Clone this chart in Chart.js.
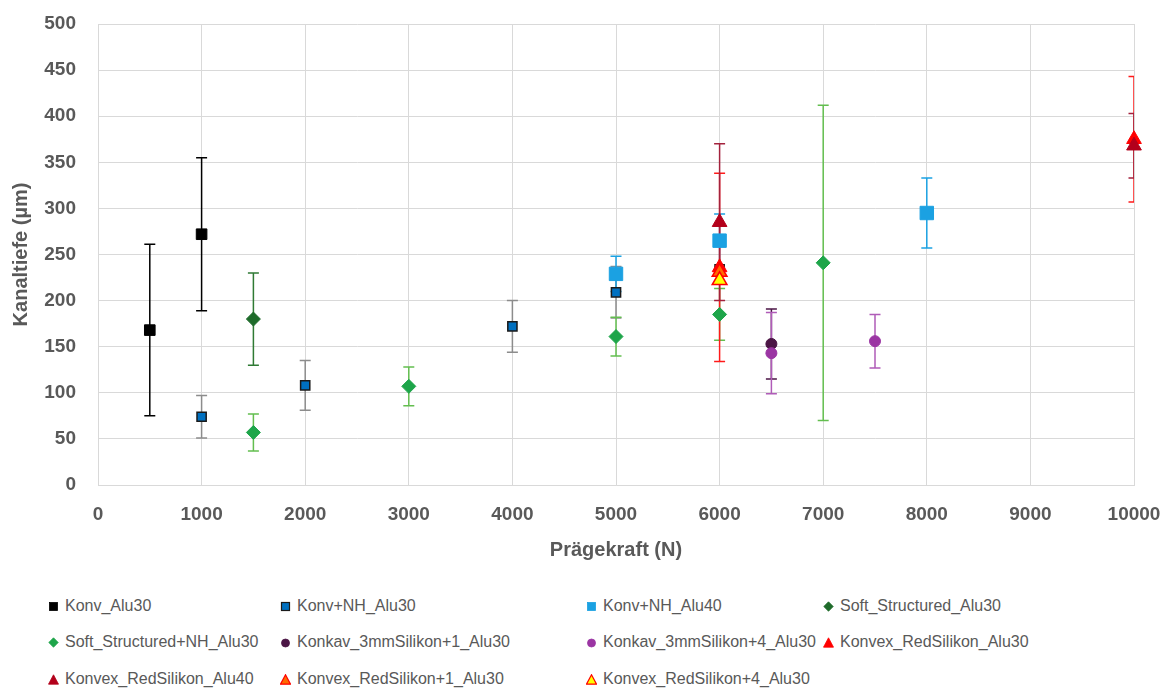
<!DOCTYPE html>
<html>
<head>
<meta charset="utf-8">
<script src="https://cdn.jsdelivr.net/npm/chart.js@4.4.1/dist/chart.umd.min.js"></script>
<style>
    body { margin: 0; background: #ffffff; font-family: "Liberation Sans", Arial, sans-serif; }
    #wrap { position: relative; width: 1170px; height: 689px; }
    #chartBox { position: absolute; left: 0; top: 0; width: 1170px; height: 580px; }
    .legendItem {
        position: absolute;
        display: flex;
        align-items: center;
        font-size: 16px;
        color: #595959;
        white-space: nowrap;
        transform: translateY(-50%);
    }
    .legendItem svg { margin-right: 6px; }
</style>
</head>
<body>
<div id="wrap">
    <div id="chartBox"><canvas id="pressChart"></canvas></div>
    <div id="legend"></div>
</div>

<script>
// =========================
// DATA
// =========================

const seriesNames = [
    "Konv_Alu30",
    "Konv+NH_Alu30",
    "Konv+NH_Alu40",
    "Soft_Structured_Alu30",
    "Soft_Structured+NH_Alu30",
    "Konkav_3mmSilikon+1_Alu30",
    "Konkav_3mmSilikon+4_Alu30",
    "Konvex_RedSilikon_Alu30",
    "Konvex_RedSilikon_Alu40",
    "Konvex_RedSilikon+1_Alu30",
    "Konvex_RedSilikon+4_Alu30"
];

// Prägekraft (N) per series
const pressForce = [
    [500, 1000],
    [1000, 2000, 4000, 5000, 6000],
    [5000, 6000, 8000],
    [1500],
    [1500, 3000, 5000, 6000, 7000],
    [6500],
    [6500, 7500],
    [6000, 10000],
    [6000, 10000],
    [6000],
    [6000]
];

// Kanaltiefe (µm) per series
const channelDepth = [
    [168, 272],
    [74, 108, 172, 209, 234],
    [229, 265, 295],
    [180],
    [57, 107, 161, 185, 241],
    [153],
    [143, 156],
    [236, 375],
    [285, 368],
    [231],
    [222]
];

// error (+/-) per point
const depthError = [
    [93, 83],
    [23, 27, 28, 28, 0],
    [19, 29, 38],
    [50],
    [20, 21, 21, 28, 171],
    [38],
    [44, 29],
    [102, 68],
    [85, 35],
    [0],
    [0]
];

const xTicks = [0, 1000, 2000, 3000, 4000, 5000, 6000, 7000, 8000, 9000, 10000];
const yTicks = [0, 50, 100, 150, 200, 250, 300, 350, 400, 450, 500];

// =========================
// STYLES
// =========================

const seriesStyles = [
    { shape: "rect",     r: 7.5, fill: "#000000", line: "#000000", lw: 1,   err: "#000000" },
    { shape: "rect",     r: 6.5, fill: "#0070c0", line: "#1a1a1a", lw: 1.5, err: "#8c8c8c" },
    { shape: "rect",     r: 9.5, fill: "#1ba1e2", line: "#1ba1e2", lw: 1,   err: "#1ba1e2" },
    { shape: "rectRot",  r: 7,   fill: "#1e6b2a", line: "#1e6b2a", lw: 1,   err: "#2f7a34" },
    { shape: "rectRot",  r: 7,   fill: "#1ea54a", line: "#1ea54a", lw: 1,   err: "#63be4f" },
    { shape: "circle",   r: 5.5, fill: "#4b1545", line: "#4b1545", lw: 1,   err: "#4b1545" },
    { shape: "circle",   r: 5.5, fill: "#9b35a3", line: "#9b35a3", lw: 1,   err: "#b05cb8" },
    { shape: "triangle", r: 8.5, fill: "#ff0000", line: "#ff0000", lw: 1,   err: "#ff1a1a" },
    { shape: "triangle", r: 8.5, fill: "#b3001b", line: "#b3001b", lw: 1,   err: "#a3223d" },
    { shape: "triangle", r: 8.5, fill: "#ff6a00", line: "#ff0000", lw: 1.5, err: "#ff0000" },
    { shape: "triangle", r: 8.5, fill: "#ffff00", line: "#ff0000", lw: 1.5, err: "#ff0000" }
];

const textGray = "#595959";
const gridGray = "#d9d9d9";

// =========================
// ERROR BARS PLUGIN
// =========================

const errorBars = {
    id: "errorBars",
    beforeDatasetsDraw(chart) {
        const ctx = chart.ctx;
        const yScale = chart.scales.y;
        const area = chart.chartArea;

        ctx.save();
        ctx.beginPath();
        ctx.rect(area.left, area.top - 3, area.right - area.left, area.bottom - area.top + 6);
        ctx.clip();

        chart.data.datasets.forEach((ds, i) => {
            const meta = chart.getDatasetMeta(i);
            meta.data.forEach((pt, j) => {
                const err = depthError[i][j];
                if (!err) return;
                const value = channelDepth[i][j];
                const top = yScale.getPixelForValue(value + err);
                const bottom = yScale.getPixelForValue(value - err);

                ctx.strokeStyle = seriesStyles[i].err;
                ctx.lineWidth = 1.5;
                ctx.beginPath();
                ctx.moveTo(pt.x, top);
                ctx.lineTo(pt.x, bottom);
                ctx.moveTo(pt.x - 5.5, top);
                ctx.lineTo(pt.x + 5.5, top);
                ctx.moveTo(pt.x - 5.5, bottom);
                ctx.lineTo(pt.x + 5.5, bottom);
                ctx.stroke();
            });
        });

        ctx.restore();
    }
};

// =========================
// CHART
// =========================

const datasets = seriesNames.map((name, i) => {
    const st = seriesStyles[i];
    return {
        label: name,
        data: pressForce[i].map((x, j) => ({ x: x, y: channelDepth[i][j] })),
        pointStyle: st.shape,
        pointRadius: st.r,
        pointHoverRadius: st.r,
        backgroundColor: st.fill,
        borderColor: st.line,
        borderWidth: st.lw,
        showLine: false,
        clip: false,
        order: seriesNames.length - i
    };
});

const pressChart = new Chart(
    document.getElementById("pressChart"),
    {
        type: "scatter",
        data: { datasets: datasets },
        plugins: [errorBars],
        options: {
            responsive: true,
            maintainAspectRatio: false,
            animation: false,
            layout: { padding: { top: 24, right: 36, left: 0, bottom: 0 } },
            plugins: {
                legend: { display: false },
                tooltip: { enabled: false }
            },
            scales: {
                x: {
                    type: "linear",
                    min: 0,
                    max: 10000,
                    afterBuildTicks(scale) {
                        scale.ticks = xTicks.map(v => ({ value: v }));
                    },
                    afterFit(scale) {
                        scale.height = 95;
                        scale.paddingLeft = 0;
                        scale.paddingRight = 0;
                    },
                    ticks: {
                        padding: 18,
                        color: textGray,
                        font: { size: 19, weight: "bold" },
                        callback: v => String(v)
                    },
                    grid: { color: gridGray, drawTicks: false },
                    border: { color: gridGray },
                    title: {
                        display: true,
                        text: "Prägekraft (N)",
                        color: textGray,
                        font: { size: 20, weight: "bold" },
                        padding: { top: 0, bottom: 18 }
                    }
                },
                y: {
                    type: "linear",
                    min: 0,
                    max: 500,
                    afterBuildTicks(scale) {
                        scale.ticks = yTicks.map(v => ({ value: v }));
                    },
                    afterFit(scale) {
                        scale.width = 98;
                        scale.paddingTop = 0;
                        scale.paddingBottom = 0;
                    },
                    ticks: {
                        padding: 22,
                        color: textGray,
                        font: { size: 19, weight: "bold" },
                        callback: v => String(v)
                    },
                    grid: { color: gridGray, drawTicks: false },
                    border: { color: gridGray },
                    title: {
                        display: true,
                        text: "Kanaltiefe (µm)",
                        color: textGray,
                        font: { size: 20, weight: "bold" },
                        padding: { top: 9, bottom: 0 }
                    }
                }
            }
        }
    }
);

// =========================
// LEGEND (HTML)
// =========================

const legendCols = [53, 285, 591, 828];
const legendRows = [606, 642, 679];

function markerSvg(st) {
    const s = 11;
    let shape = "";
    const sw = st.lw > 1 ? 1.2 : 0.8;
    if (st.shape === "rect") {
        shape = `<rect x="1.5" y="1.5" width="8" height="8" fill="${st.fill}" stroke="${st.line}" stroke-width="${sw}"/>`;
    } else if (st.shape === "rectRot") {
        shape = `<polygon points="5.5,0.8 10.2,5.5 5.5,10.2 0.8,5.5" fill="${st.fill}" stroke="${st.line}" stroke-width="${sw}"/>`;
    } else if (st.shape === "circle") {
        shape = `<circle cx="5.5" cy="6" r="4" fill="${st.fill}" stroke="${st.line}" stroke-width="${sw}"/>`;
    } else {
        shape = `<polygon points="5.5,0.8 10.5,10.2 0.5,10.2" fill="${st.fill}" stroke="${st.line}" stroke-width="${sw}"/>`;
    }
    return `<svg width="${s}" height="${s}" viewBox="0 0 ${s} ${s}">${shape}</svg>`;
}

const legendBox = document.getElementById("legend");

pressChart.data.datasets.forEach((ds, i) => {
    const item = document.createElement("div");
    item.className = "legendItem";
    item.style.left = (legendCols[i % 4] - 5) + "px";
    item.style.top = legendRows[Math.floor(i / 4)] + "px";
    item.innerHTML = markerSvg(seriesStyles[i]) + "<span>" + ds.label + "</span>";
    legendBox.appendChild(item);
});
</script>
</body>
</html>
